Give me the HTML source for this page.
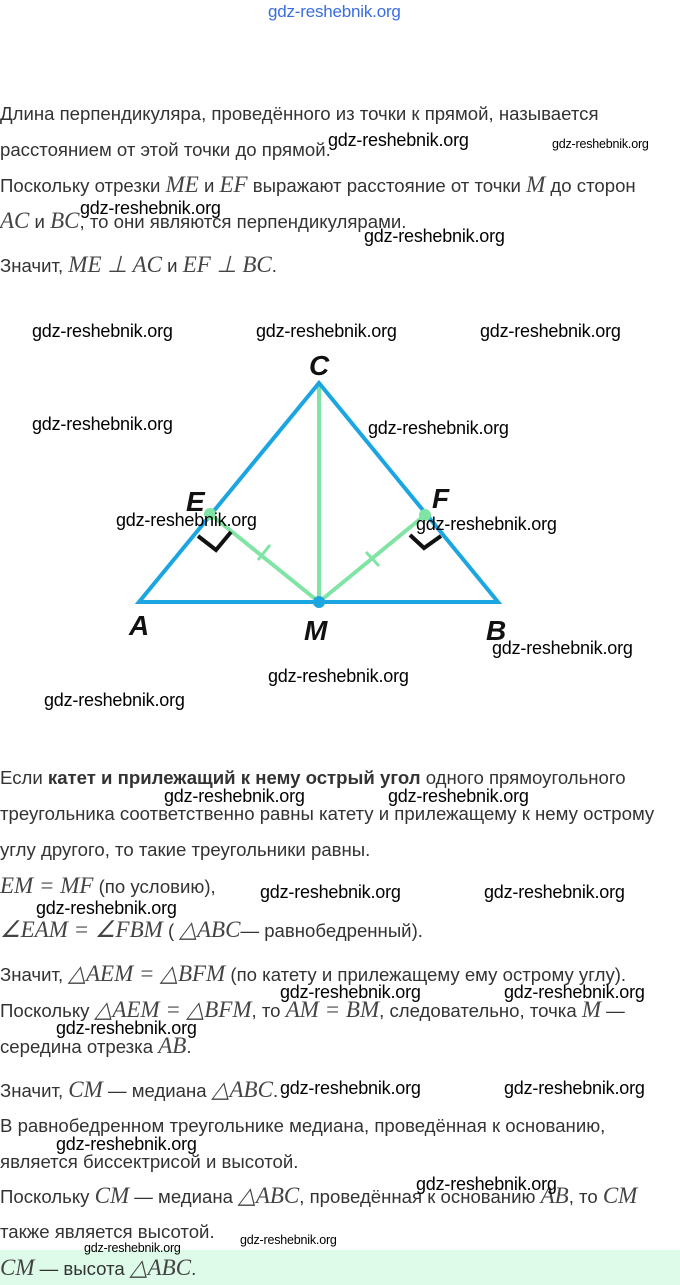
<!DOCTYPE html>
<html><head><meta charset="utf-8"><style>
body{margin:0;width:680px;height:1285px;background:#fff;position:relative;overflow:hidden;font-family:"Liberation Sans","DejaVu Sans",sans-serif;}
.t{position:absolute;left:0;font-size:18.6px;color:#333;white-space:nowrap;line-height:22px;letter-spacing:0}
.m{font-family:"Liberation Serif",serif;font-style:italic;font-size:23px;color:#444}
.w{position:absolute;font-size:18px;color:#000;white-space:nowrap;line-height:20px;font-family:"Liberation Sans Narrow","Liberation Sans",sans-serif;letter-spacing:-0.2px}
.s{font-size:12.5px}
.g{position:absolute;left:0;top:1250px;width:680px;height:35px;background:#ddfbe8}
</style></head><body>
<div class="w" style="left:268px;top:2px;color:#3a6ee0;font-size:17px">gdz-reshebnik.org</div>

<div class="t" style="top:103px">Длина перпендикуляра, проведённого из точки к прямой, называется</div>
<div class="t" style="top:139px">расстоянием от этой точки до прямой.</div>
<div class="t" style="top:174px">Поскольку отрезки <span class="m">ME</span> и <span class="m">EF</span> выражают расстояние от точки <span class="m">M</span> до сторон</div>
<div class="t" style="top:210px"><span class="m">AC</span> и <span class="m">BC</span>, то они являются перпендикулярами.</div>
<div class="t" style="top:254px">Значит, <span class="m">ME ⊥ AC</span> и <span class="m">EF ⊥ BC</span>.</div>

<div class="w" style="left:328px;top:130px">gdz-reshebnik.org</div>
<div class="w s" style="left:552px;top:134px">gdz-reshebnik.org</div>
<div class="w" style="left:80px;top:198px">gdz-reshebnik.org</div>
<div class="w" style="left:364px;top:226px">gdz-reshebnik.org</div>

<svg style="position:absolute;left:0;top:0" width="680" height="700">
<line x1="319" y1="383" x2="319" y2="602" stroke="#80e4a4" stroke-width="4"/>
<line x1="210" y1="514" x2="319" y2="602" stroke="#80e4a4" stroke-width="4"/>
<line x1="425" y1="515" x2="319" y2="602" stroke="#80e4a4" stroke-width="4"/>
<line x1="258" y1="560" x2="270" y2="545" stroke="#80e4a4" stroke-width="3"/>
<line x1="366" y1="552" x2="379" y2="566" stroke="#80e4a4" stroke-width="3"/>
<polygon points="139,602 498,602 319,383" fill="none" stroke="#1ba6e2" stroke-width="4" stroke-linejoin="miter"/>
<polyline points="198,536 216,550 231,532" fill="none" stroke="#111" stroke-width="4"/>
<polyline points="410,535 424,548 441,536" fill="none" stroke="#111" stroke-width="4"/>
<circle cx="210" cy="514" r="6" fill="#80e4a4"/>
<circle cx="425" cy="515" r="6" fill="#80e4a4"/>
<circle cx="319" cy="602" r="6" fill="#1ba6e2"/>
<g font-family="Liberation Sans, sans-serif" font-style="italic" font-weight="bold" font-size="28" fill="#111">
<text x="309" y="375">C</text>
<text x="186" y="511">E</text>
<text x="432" y="508">F</text>
<text x="129" y="635">A</text>
<text x="304" y="640">M</text>
<text x="486" y="640">B</text>
</g>
</svg>

<div class="w" style="left:32px;top:321px">gdz-reshebnik.org</div>
<div class="w" style="left:256px;top:321px">gdz-reshebnik.org</div>
<div class="w" style="left:480px;top:321px">gdz-reshebnik.org</div>
<div class="w" style="left:32px;top:414px">gdz-reshebnik.org</div>
<div class="w" style="left:368px;top:418px">gdz-reshebnik.org</div>
<div class="w" style="left:116px;top:510px">gdz-reshebnik.org</div>
<div class="w" style="left:416px;top:514px">gdz-reshebnik.org</div>
<div class="w" style="left:492px;top:638px">gdz-reshebnik.org</div>
<div class="w" style="left:268px;top:666px">gdz-reshebnik.org</div>
<div class="w" style="left:44px;top:690px">gdz-reshebnik.org</div>

<div class="t" style="top:767px">Если <b>катет и прилежащий к нему острый угол</b> одного прямоугольного</div>
<div class="t" style="top:803px">треугольника соответственно равны катету и прилежащему к нему острому</div>
<div class="t" style="top:839px">углу другого, то такие треугольники равны.</div>
<div class="t" style="top:875px"><span class="m">EM = MF</span> (по условию),</div>
<div class="t" style="top:919px"><span class="m">∠EAM = ∠FBM</span> ( <span class="m">△ABC</span>— равнобедренный).</div>
<div class="t" style="top:963px">Значит, <span class="m">△AEM = △BFM</span> (по катету и прилежащему ему острому углу).</div>
<div class="t" style="top:999px">Поскольку <span class="m">△AEM = △BFM</span>, то <span class="m">AM = BM</span>, следовательно, точка <span class="m">M</span> —</div>
<div class="t" style="top:1035px">середина отрезка <span class="m">AB</span>.</div>
<div class="t" style="top:1079px">Значит, <span class="m">CM</span> — медиана <span class="m">△ABC</span>.</div>
<div class="t" style="top:1115px">В равнобедренном треугольнике медиана, проведённая к основанию,</div>
<div class="t" style="top:1151px">является биссектрисой и высотой.</div>
<div class="t" style="top:1185px">Поскольку <span class="m">CM</span> — медиана <span class="m">△ABC</span>, проведённая к основанию <span class="m">AB</span>, то <span class="m">CM</span></div>
<div class="t" style="top:1221px">также является высотой.</div>
<div class="g"></div>
<div class="t" style="top:1257px"><span class="m">CM</span> — высота <span class="m">△ABC</span>.</div>

<div class="w" style="left:164px;top:786px">gdz-reshebnik.org</div>
<div class="w" style="left:388px;top:786px">gdz-reshebnik.org</div>
<div class="w" style="left:260px;top:882px">gdz-reshebnik.org</div>
<div class="w" style="left:484px;top:882px">gdz-reshebnik.org</div>
<div class="w" style="left:36px;top:898px">gdz-reshebnik.org</div>
<div class="w" style="left:280px;top:982px">gdz-reshebnik.org</div>
<div class="w" style="left:504px;top:982px">gdz-reshebnik.org</div>
<div class="w" style="left:56px;top:1018px">gdz-reshebnik.org</div>
<div class="w" style="left:280px;top:1078px">gdz-reshebnik.org</div>
<div class="w" style="left:504px;top:1078px">gdz-reshebnik.org</div>
<div class="w" style="left:56px;top:1134px">gdz-reshebnik.org</div>
<div class="w" style="left:416px;top:1174px">gdz-reshebnik.org</div>
<div class="w s" style="left:240px;top:1230px">gdz-reshebnik.org</div>
<div class="w s" style="left:84px;top:1238px">gdz-reshebnik.org</div>
</body></html>
